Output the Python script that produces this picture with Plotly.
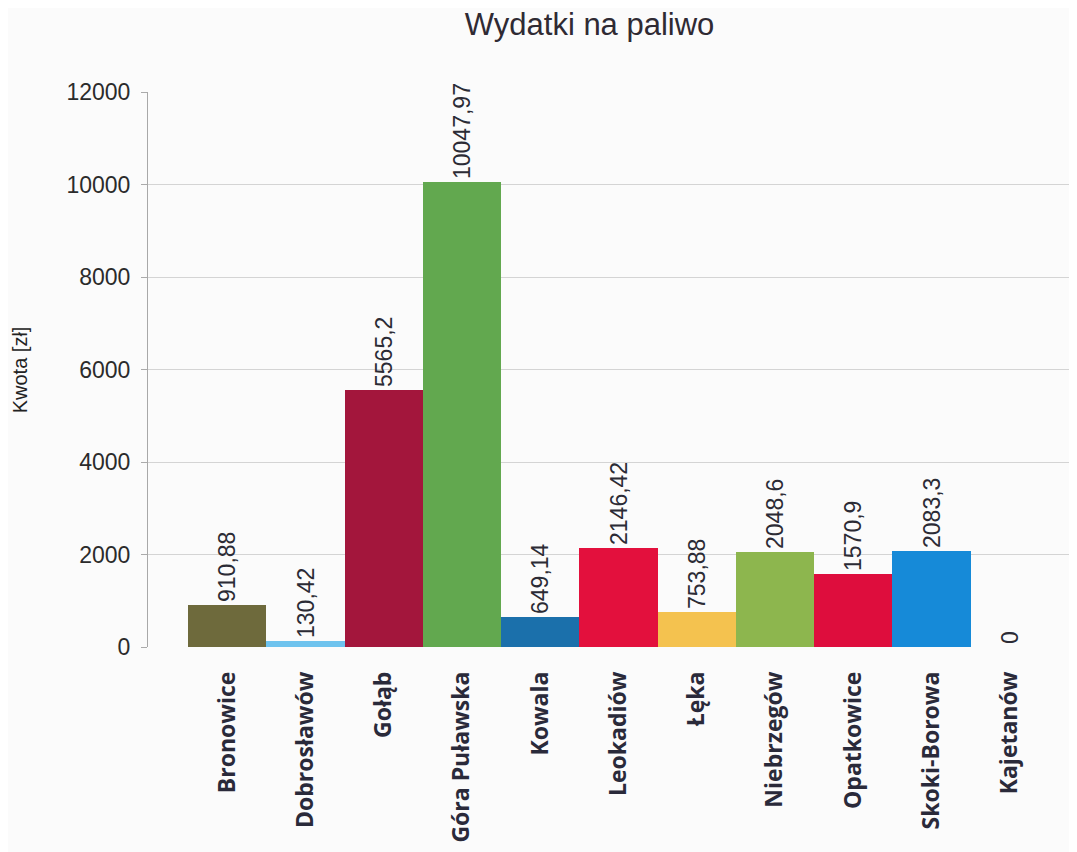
import plotly.graph_objects as go

categories = ["Bronowice", "Dobrosławów", "Gołąb", "Góra Puławska", "Kowala",
              "Leokadiów", "Łęka", "Niebrzegów", "Opatkowice", "Skoki-Borowa", "Kajetanów"]
values = [910.88, 130.42, 5565.2, 10047.97, 649.14, 2146.42, 753.88, 2048.6, 1570.9, 2083.3, 0]
value_labels = ["910,88", "130,42", "5565,2", "10047,97", "649,14", "2146,42",
                "753,88", "2048,6", "1570,9", "2083,3", "0"]
colors = ["#6e6a3c", "#6ec3ee", "#a3163c", "#62a84f", "#1b70ab", "#e3103d",
          "#f4c24f", "#8db64e", "#de0d3d", "#168ad8", "#888888"]
y_ticks = [0, 2000, 4000, 6000, 8000, 10000, 12000]
y_tick_text = [str(v) for v in y_ticks]

fig = go.Figure(go.Bar(
    x=categories, y=values,
    marker=dict(color=colors, line=dict(width=0)),
    text=value_labels, textposition="outside", textangle=-90, constraintext="none",
    textfont=dict(family="Liberation Sans, Arial", size=23, color="#2b2b35"),
    cliponaxis=False, width=1.0,
))

fig.add_annotation(text="Kwota [zł]", xref="paper", yref="paper", x=-0.138, y=0.5,
                   xanchor="center", yanchor="middle", textangle=-90, showarrow=False,
                   font=dict(family="Liberation Sans, Arial", size=20, color="#222222"))

fig.update_layout(
    width=1077, height=852,
    margin=dict(l=140, r=8, t=84, b=213),
    paper_bgcolor="#fbfbfb", plot_bgcolor="#fbfbfb",
    bargap=0, showlegend=False,
    title=dict(text="Wydatki na paliwo", xref="container", yref="container",
               x=0.540, xanchor="center", y=0.981, yanchor="middle",
               font=dict(family="Liberation Sans, Arial", size=31, color="#2f2a33")),
    xaxis=dict(range=[-1.011, 10.86], tickangle=-90, showgrid=False, showline=False,
               ticks="", ticklabelstandoff=19, automargin=False,
               tickfont=dict(family="Open Sans", size=23, color="#2a2a3a", weight="bold")),
    yaxis=dict(range=[0, 12000], tickvals=y_ticks, ticktext=y_tick_text, automargin=False,
               ticks="outside", ticklen=6, ticklabelstandoff=6,
               tickcolor="#aaaaaa", showline=True, linecolor="#a8a8a8", linewidth=1,
               gridcolor="#d4d4d4", gridwidth=1, zeroline=False,
               tickfont=dict(family="Liberation Sans, Arial", size=23, color="#2b2b2b")),
)

fig.write_html("out.html")
